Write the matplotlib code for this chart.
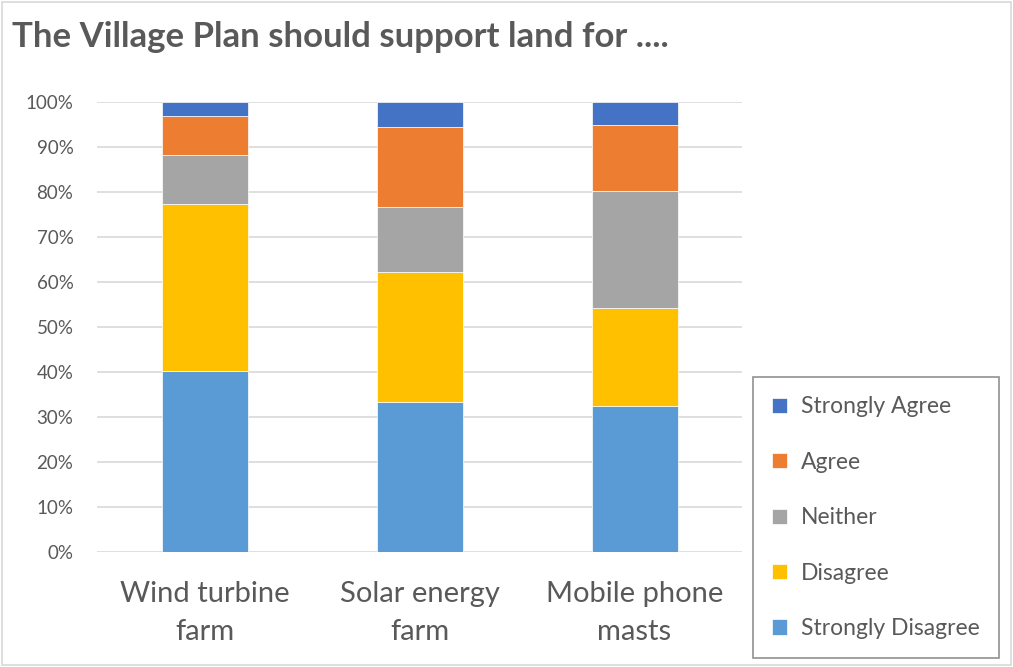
import matplotlib.pyplot as plt
from matplotlib.patches import Rectangle
from matplotlib.ticker import PercentFormatter

plt.rcParams['font.family'] = ['Lato', 'DejaVu Sans']

# Kategorien und Anteile (in %)
kategorien = ["Wind turbine\nfarm", "Solar energy\nfarm", "Mobile phone\nmasts"]
strongly_disagree = [40.2, 33.3, 32.4]
disagree = [37.0, 28.9, 21.8]
neither = [11.0, 14.4, 26.0]
agree = [8.6, 17.8, 14.6]
strongly_agree = [3.2, 5.6, 5.2]

reihen = [
    ("Strongly Disagree", strongly_disagree, "#5B9BD5"),
    ("Disagree", disagree, "#FFC000"),
    ("Neither", neither, "#A5A5A5"),
    ("Agree", agree, "#ED7D31"),
    ("Strongly Agree", strongly_agree, "#4472C4"),
]

textfarbe = "#595959"

fig = plt.figure(figsize=(10.13, 6.67), dpi=100)
ax = fig.add_axes([0.0958, 0.1729, 0.6367, 0.6746])

x = list(range(len(kategorien)))
unten = [0.0] * len(kategorien)
handles = []
for name, werte, farbe in reihen:
    b = ax.bar(x, werte, bottom=unten, width=0.4, color=farbe,
               edgecolor="white", linewidth=0.5, label=name, zorder=3)
    handles.append(b)
    unten = [u + w for u, w in zip(unten, werte)]

ax.set_xlim(-0.5, 2.5)
ax.set_ylim(0, 100)
ax.set_yticks(range(0, 101, 10))
ax.yaxis.set_major_formatter(PercentFormatter(decimals=0))
ax.set_xticks(x)
ax.set_xticklabels(kategorien, fontsize=21, color=textfarbe, linespacing=1.58)
ax.tick_params(axis='y', labelsize=13.5, colors=textfarbe, length=0, pad=17)
ax.tick_params(axis='x', length=0, pad=21)

ax.grid(axis='y', color="#D9D9D9", linewidth=1.2, zorder=0)
for s in ax.spines.values():
    s.set_visible(False)

# Titel oben links
fig.text(12 / 1013, 1 - 37 / 667, "The Village Plan should support land for ....",
         fontsize=25, fontweight='bold', color=textfarbe, va='center', ha='left')

# Legende rechts unten (umgekehrte Reihenfolge)
leg = fig.legend(handles[::-1], [r[0] for r in reihen][::-1],
                 loc='upper left', bbox_to_anchor=(753 / 1013, 1 - 377 / 667),
                 fontsize=16.5, frameon=True, fancybox=False, edgecolor="#767676",
                 handlelength=0.65, handleheight=0.65, handletextpad=0.6,
                 labelspacing=1.5, borderpad=0.85, borderaxespad=0)
leg.get_frame().set_linewidth(1.2)
for t in leg.get_texts():
    t.set_color(textfarbe)

# Rahmen um das gesamte Diagramm
fig.patches.append(Rectangle((0.002, 0.003), 0.996, 0.994, transform=fig.transFigure,
                             fill=False, edgecolor="#D9D9D9", linewidth=1.2))

plt.savefig("out.png", dpi=100)
